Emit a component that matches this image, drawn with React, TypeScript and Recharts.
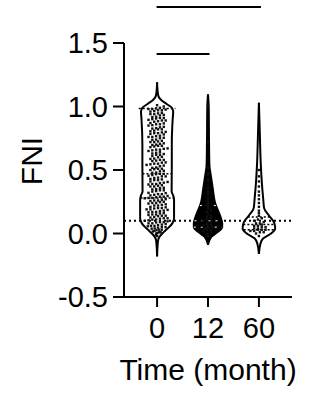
import React from 'react';
import { ComposedChart, Area, Scatter, XAxis, YAxis, ReferenceLine } from 'recharts';

const groups = ['0', '12', '60'];
const yTicks = [-0.5, 0, 0.5, 1, 1.5];
const cutoff = 0.1;

// violin outlines, [FNI, relative density]
const violin0 = [[1.19, 0], [1.12, 0.03], [1.08, 0.08], [1.05, 0.25], [1.02, 0.55], [0.99, 0.85], [0.96, 0.93], [0.9, 0.9], [0.7, 0.85], [0.55, 0.85], [0.33, 0.84], [0.3, 0.93], [0.26, 0.98], [0.12, 0.98], [0.08, 0.88], [0.05, 0.69], [0.02, 0.45], [0, 0.3], [-0.03, 0.12], [-0.06, 0.05], [-0.18, 0]];
const violin12 = [[1.095, 0], [1.0, 0.04], [0.72, 0.06], [0.54, 0.08], [0.46, 0.16], [0.34, 0.29], [0.24, 0.41], [0.14, 0.7], [0.08, 0.82], [0.05, 0.82], [0.0, 0.44], [-0.03, 0.17], [-0.09, 0]];
const violin60 = [[1.03, 0], [0.8, 0.05], [0.54, 0.11], [0.4, 0.17], [0.27, 0.25], [0.2, 0.3], [0.14, 0.59], [0.085, 0.88], [0.04, 0.94], [0.0, 0.7], [-0.04, 0.24], [-0.08, 0.09], [-0.16, 0]];

// individual FNI values
const dots0 = [
  -0.02, -0.01, 0.0, 0.004, 0.01, 0.01, 0.016, 0.02, 0.027, 0.03, 0.03, 0.038, 0.04, 0.046, 0.05, 0.05, 0.057, 0.06, 0.06, 0.066, 0.07, 0.075, 0.08, 0.08, 0.087, 0.09, 0.09, 0.096,
  0.1, 0.104, 0.11, 0.11, 0.117, 0.12, 0.12, 0.126, 0.13, 0.137, 0.14, 0.14, 0.146, 0.15, 0.15, 0.158, 0.16, 0.167, 0.17, 0.17, 0.176, 0.18, 0.186, 0.19, 0.19, 0.197,
  0.2, 0.2, 0.206, 0.21, 0.22, 0.22, 0.225, 0.23, 0.236, 0.24, 0.24, 0.247, 0.25, 0.256, 0.26, 0.26, 0.265, 0.27, 0.277, 0.28, 0.28, 0.285, 0.29, 0.29, 0.296,
  0.3, 0.305, 0.31, 0.31, 0.318, 0.32, 0.33, 0.334, 0.34, 0.34, 0.347, 0.35, 0.357, 0.36, 0.37, 0.37, 0.376, 0.38, 0.386, 0.39, 0.39, 0.397,
  0.4, 0.406, 0.41, 0.42, 0.42, 0.426, 0.43, 0.437, 0.44, 0.45, 0.45, 0.455, 0.46, 0.467, 0.47, 0.47, 0.478, 0.48, 0.49, 0.494,
  0.5, 0.506, 0.51, 0.51, 0.517, 0.52, 0.53, 0.535, 0.54, 0.545, 0.55, 0.55, 0.558, 0.56, 0.57, 0.574, 0.58, 0.58, 0.587, 0.59,
  0.6, 0.604, 0.61, 0.62, 0.62, 0.626, 0.63, 0.636, 0.64, 0.65, 0.655, 0.66, 0.66, 0.667, 0.67, 0.68, 0.685, 0.69, 0.69, 0.697,
  0.7, 0.706, 0.71, 0.72, 0.72, 0.725, 0.73, 0.737, 0.74, 0.75, 0.754, 0.76, 0.76, 0.766, 0.77, 0.78, 0.784, 0.79, 0.79, 0.796,
  0.8, 0.805, 0.81, 0.82, 0.82, 0.826, 0.83, 0.836, 0.84, 0.85, 0.853, 0.86, 0.86, 0.867, 0.87, 0.88, 0.884, 0.89, 0.89, 0.895,
  0.9, 0.905, 0.91, 0.91, 0.917, 0.92, 0.93, 0.934, 0.94, 0.94, 0.946, 0.95, 0.96, 0.964, 0.97, 0.97, 0.976, 0.98, 0.98, 0.985, 0.99, 1.0, 1.01,
];
const dots12 = [
  -0.02, 0.0, 0.01, 0.02, 0.03, 0.03, 0.04, 0.05, 0.05, 0.06, 0.07, 0.07, 0.08, 0.09, 0.1, 0.11, 0.12, 0.13,
  0.14, 0.15, 0.17, 0.18, 0.2, 0.22, 0.24, 0.26, 0.28, 0.31, 0.33, 0.36, 0.42, 0.47, 0.52, 0.72, 1.0,
];
const dots60 = [
  -0.02, 0.0, 0.01, 0.01, 0.02, 0.02, 0.03, 0.03, 0.03, 0.04, 0.04, 0.05, 0.05, 0.06, 0.06, 0.07, 0.08, 0.08, 0.09,
  0.1, 0.11, 0.12, 0.14, 0.16, 0.18, 0.21, 0.24, 0.27, 0.3, 0.33, 0.37, 0.41, 0.45, 0.5,
];

// [lower quartile, median, upper quartile]
const quart0 = [0.28, 0.47, 0.985];
const quart12 = [0.05, 0.1, 0.22];
const quart60 = [0.03, 0.07, 0.13];

// multiple comparison brackets, group index pairs
const comparisons = [[0, 1], [0, 2]];

const VW = 0.34;
const FONT = '"Liberation Sans", Arial, sans-serif';

const halfAt = (shape: number[][], v: number) => {
  for (let i = 0; i < shape.length - 1; i++) {
    const [v1, d1] = shape[i];
    const [v2, d2] = shape[i + 1];
    if (v <= v1 && v >= v2) {
      const t = (v1 - v) / (v1 - v2 || 1);
      return (d1 + (d2 - d1) * t) * VW;
    }
  }
  return 0;
};

const outline = (shape: number[][], center: number) =>
  shape.map(([v, d]) => ({ v, r: [center - d * VW, center + d * VW] }));

// beeswarm rows, alternate rows shifted a little
const swarm = (values: number[], shape: number[][], center: number) => {
  const rows = new Map<number, number[]>();
  values.forEach((v) => {
    const k = Math.round(v / 0.022);
    if (!rows.has(k)) rows.set(k, []);
    rows.get(k)!.push(v);
  });
  const pts: { x: number; v: number }[] = [];
  rows.forEach((vs, key) => {
    vs.forEach((v, k) => {
      const hw = Math.max(halfAt(shape, v) - 0.05, 0);
      const step = vs.length > 1 ? Math.min(0.075, (2 * hw) / vs.length) : 0;
      const shift = key % 2 === 0 ? step / 4 : -step / 4;
      pts.push({ x: center + (k - (vs.length - 1) / 2) * step + shift, v });
    });
  });
  return pts;
};

const violins = [violin0, violin12, violin60];
const quarts = [quart0, quart12, quart60];
const dotPoints = [
  ...swarm(dots0, violin0, 0),
  ...swarm(dots12, violin12, 1),
  ...swarm(dots60, violin60, 2),
];

const Dot = (p: any) => <rect x={p.cx - 1.2} y={p.cy - 1.2} width={2.4} height={2.4} fill="#111" />;

const yTitle = (props: any) => {
  const { x } = props.viewBox;
  const cx = x + 42;
  const cy = 161;
  return (
    <text x={cx} y={cy} transform={`rotate(-90 ${cx} ${cy})`} textAnchor="middle" fontSize={30} fill="#000">
      FNI
    </text>
  );
};

export default function App() {
  const axisStyle = { stroke: '#000', strokeWidth: 2 };
  return (
    <div style={{ position: 'absolute', left: 0, top: 0, width: 312, height: 393, background: '#fff', fontFamily: FONT }}>
      <ComposedChart width={312} height={393} layout="vertical" margin={{ top: 43, right: 20, bottom: 0, left: 0 }}>
        <XAxis
          type="number"
          domain={[-0.65, 2.65]}
          ticks={[0, 1, 2]}
          interval={0}
          allowDataOverflow
          tickFormatter={(i: number) => groups[i]}
          height={96}
          tickSize={10}
          tickMargin={10}
          axisLine={axisStyle}
          tickLine={axisStyle}
          tick={{ fill: '#000', fontSize: 29 }}
          label={{ value: 'Time (month)', position: 'insideBottom', offset: 13, fill: '#000', fontSize: 30 }}
        />
        <YAxis
          type="number"
          dataKey="v"
          domain={[-0.5, 1.5]}
          reversed
          ticks={yTicks}
          interval={0}
          allowDataOverflow
          tickFormatter={(v: number) => v.toFixed(1)}
          width={124}
          tickSize={11}
          tickMargin={5}
          axisLine={axisStyle}
          tickLine={axisStyle}
          tick={{ fill: '#000', fontSize: 29 }}
          label={yTitle}
        />
        {violins.map((shape, i) => (
          <Area
            key={`violin-${i}`}
            data={outline(shape, i)}
            dataKey="r"
            type="monotone"
            stroke="#000"
            strokeWidth={2}
            fill={i === 1 ? '#000' : '#fff'}
            fillOpacity={1}
            dot={false}
            activeDot={false}
            isAnimationActive={false}
          />
        ))}
        <ReferenceLine y={cutoff} stroke="#000" strokeWidth={2} strokeDasharray="2 3" />
        {quarts.map((q, i) =>
          q.map((v, j) => {
            const hw = j === 2 && i === 0 ? 0.36 : halfAt(violins[i], v);
            return (
              <ReferenceLine
                key={`q-${i}-${j}`}
                segment={[{ x: i - hw, y: v }, { x: i + hw, y: v }]}
                stroke={i === 1 ? '#fff' : '#000'}
                strokeWidth={i === 1 ? 1 : 1.5}
                strokeDasharray={i === 1 ? '2 5' : '2 2'}
              />
            );
          })
        )}
        <Scatter data={dotPoints} dataKey="x" shape={Dot} isAnimationActive={false} />
        {comparisons.map(([a, b], i) => (
          <ReferenceLine
            key={`cmp-${i}`}
            segment={[{ x: a - 0.01, y: i === 0 ? 1.413 : 1.783 }, { x: b + (i === 0 ? 0.03 : 0.04), y: i === 0 ? 1.413 : 1.783 }]}
            stroke="#000"
            strokeWidth={2}
            ifOverflow="visible"
          />
        ))}
      </ComposedChart>
    </div>
  );
}
